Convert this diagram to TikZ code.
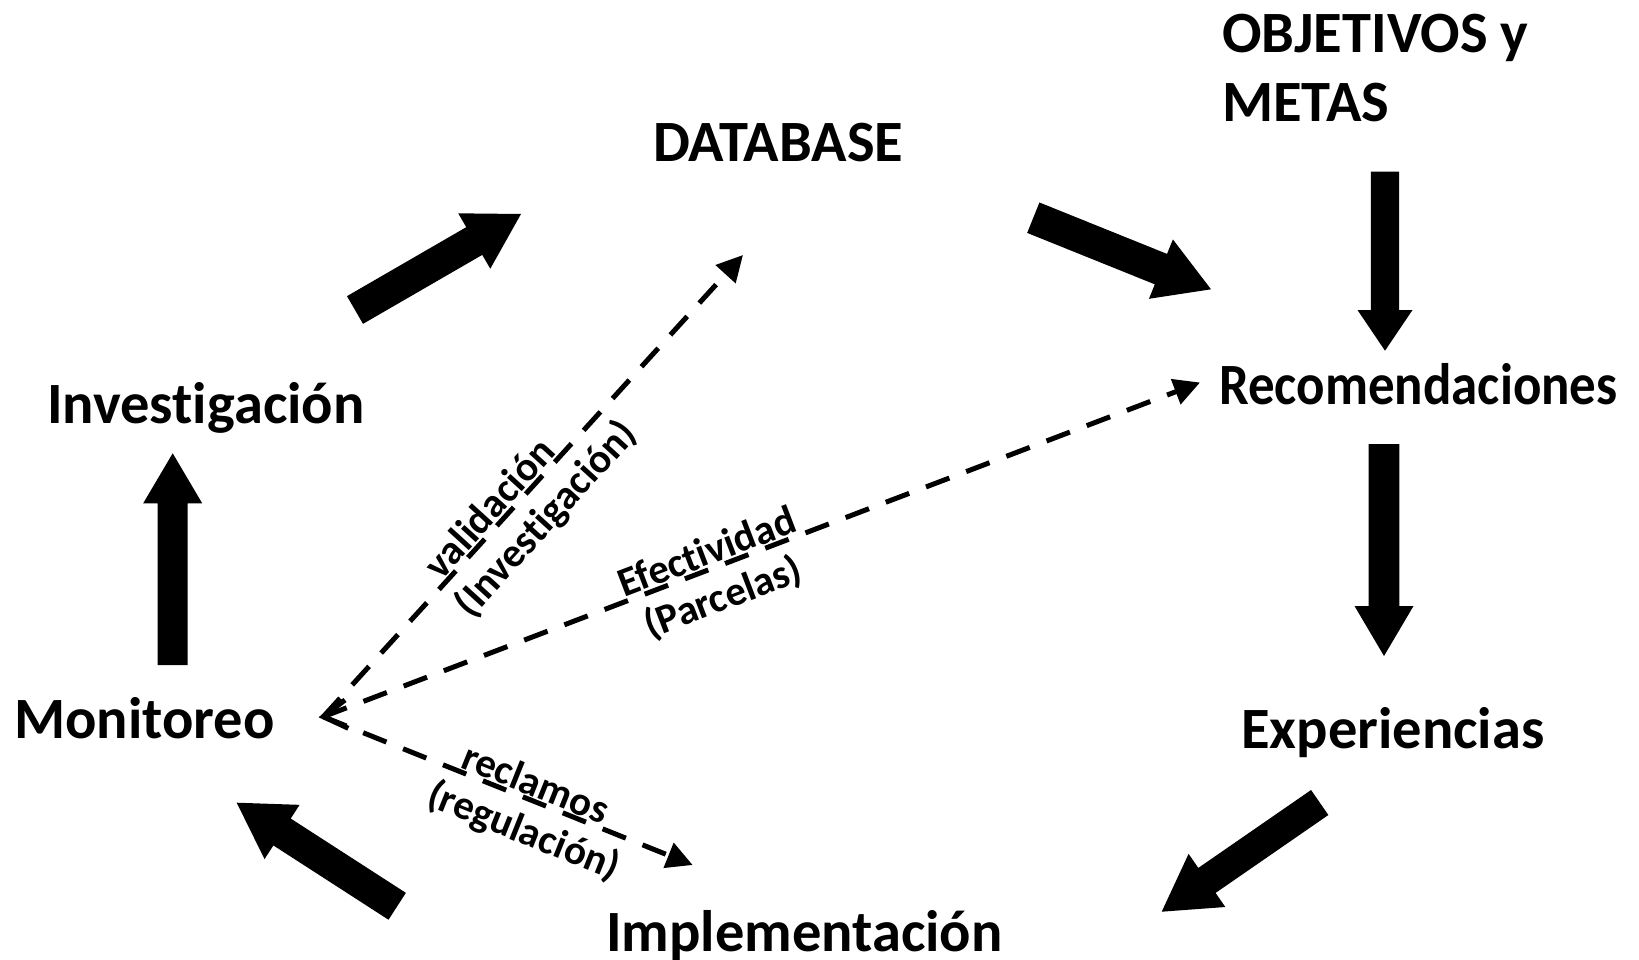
\documentclass[tikz,border=0pt]{standalone}
\usepackage{fontspec}
\setmainfont{Carlito}[Ligatures=NoCommon]
\usetikzlibrary{calc,arrows.meta}
% block arrow: #1 tail, #2 tip, #3 shaft half width, #4 head half width, #5 head length
\newcommand{\blockarr}[5]{%
  \path coordinate (ba-base) at ($(#2)!#5!(#1)$);
  \fill ($(#1)!#3!90:(#2)$) -- ($(ba-base)!#3!90:(#2)$) -- ($(ba-base)!#4!90:(#2)$) -- (#2)
     -- ($(ba-base)!#4!-90:(#2)$) -- ($(ba-base)!#3!-90:(#2)$) -- ($(#1)!#3!-90:(#2)$) -- cycle;}
\begin{document}
\begin{tikzpicture}[x=1pt,y=-1pt,
  lbl/.style={font=\fontsize{58.5pt}{69pt}\selectfont\bfseries, inner sep=0pt, anchor=base west},
  edgelbl/.style={font=\fontsize{41pt}{48pt}\selectfont\bfseries, inner sep=0pt, anchor=base},
  dashline/.style={line width=5pt, dash pattern=on 25pt off 18pt, -{Triangle[length=26pt,width=26pt]}}]
\useasboundingbox[fill=white] (0,0) rectangle (1639,960);

% main texts
\node[lbl, align=left] (obj) at (1222,122) {OBJETIVOS y\\METAS};
\node[lbl] (db)  at (653,162) {DATABASE};
\node[lbl, xscale=0.905] (rec) at (1219,404) {Recomendaciones};
\node[lbl] (inv) at (47,423) {Investigación};
\node[lbl] (mon) at (14,738) {Monitoreo};
\node[lbl] (exp) at (1241,748) {Experiencias};
\node[lbl] (imp) at (606,951) {Implementación};

% block arrow end points
\coordinate (inv-out) at (355,310);    \coordinate (db-in)  at (521,214);
\coordinate (db-out)  at (1033.3,217.7); \coordinate (rec-in1) at (1211,289.3);
\coordinate (obj-out) at (1385,171.7); \coordinate (rec-in2) at (1385,350.7);
\coordinate (rec-out) at (1384,444);   \coordinate (exp-in) at (1384,656);
\coordinate (exp-out) at (1319.7,802.5); \coordinate (imp-in) at (1161.7,911.7);
\coordinate (imp-out) at (397.2,906.3); \coordinate (mon-in) at (236.7,802.7);
\coordinate (mon-out) at (172.7,665);  \coordinate (inv-in) at (172.7,453.3);

\blockarr{inv-out}{db-in}{16pt}{32pt}{54pt}
\blockarr{db-out}{rec-in1}{16.4pt}{32pt}{54pt}
\blockarr{obj-out}{rec-in2}{14.2pt}{27.5pt}{40.7pt}
\blockarr{rec-out}{exp-in}{15.3pt}{29.5pt}{50pt}
\blockarr{exp-out}{imp-in}{15.2pt}{32.3pt}{55pt}
\blockarr{imp-out}{mon-in}{16pt}{32.3pt}{54pt}
\blockarr{mon-out}{inv-in}{15pt}{29.5pt}{50pt}

% dashed connectors
\coordinate (mport) at (323.3,716.7);
\coordinate (db-d)  at (743,255);
\coordinate (rec-d) at (1200,382.5);
\coordinate (imp-d) at (692.7,865);
\coordinate (chev-a) at (345,700);
\coordinate (chev-b) at (348.3,728.3);
\draw[dashline] (mport) -- (db-d);
\draw[dashline] (mport) -- (rec-d);
\draw[dashline] (mport) -- (imp-d);
\draw[line width=5pt] (chev-a) -- (mport) -- (chev-b);

% connector labels
\node[edgelbl, rotate=47.73] (l1a) at (499.2,517.2) {validación};
\node[edgelbl, rotate=47.73] (l1b) at (555.0,527.3) {(Investigación)};
\node[edgelbl, rotate=20.9] (l2a) at (711.5,564.3) {Efectividad};
\node[edgelbl, rotate=20.9] (l2b) at (727.6,609.4) {(Parcelas)};
\node[edgelbl, rotate=-21.87] (l3a) at (530.8,795.7) {reclamos};
\node[edgelbl, rotate=-21.87] (l3b) at (519.4,842.8) {(regulación)};
\end{tikzpicture}
\end{document}
